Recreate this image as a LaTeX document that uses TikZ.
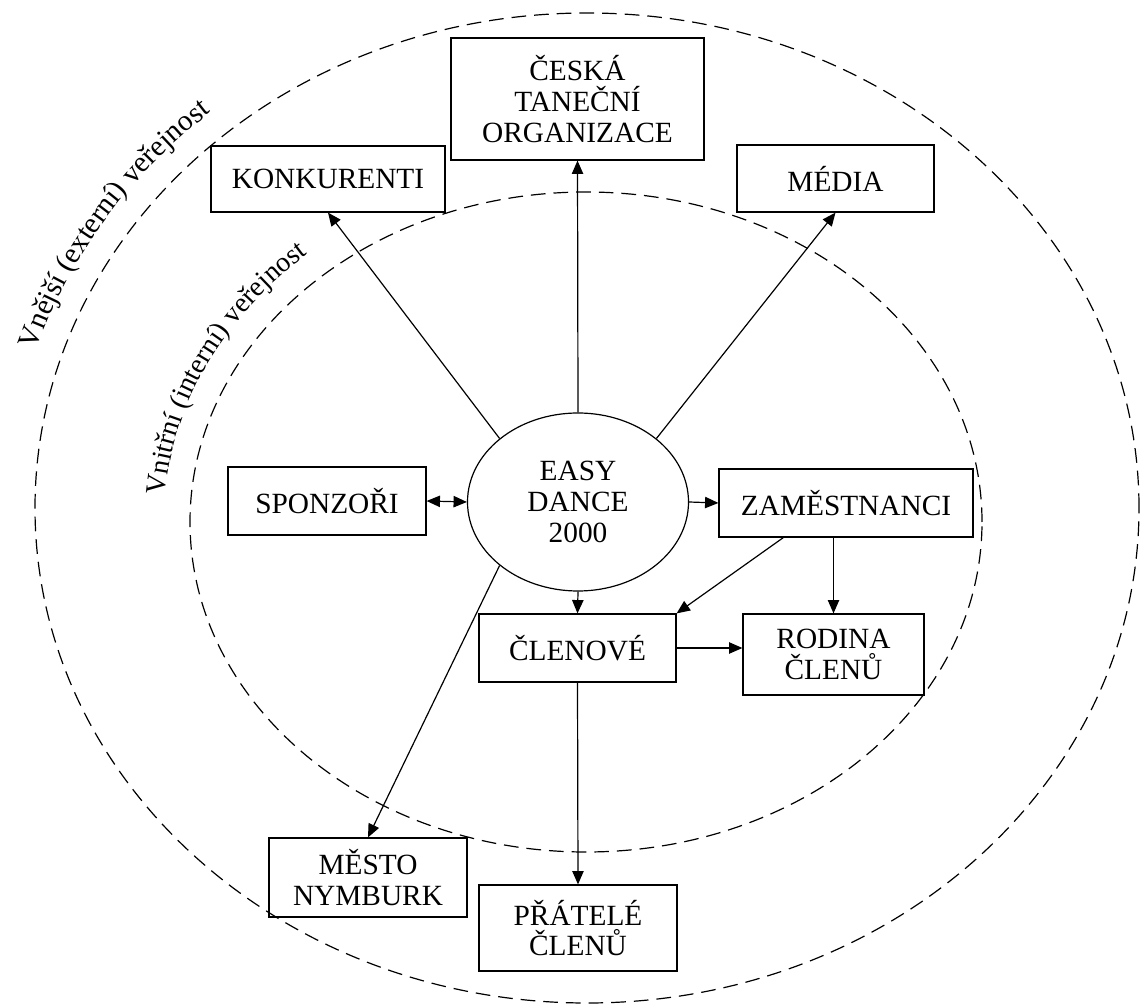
\documentclass[tikz,border=0pt]{standalone}
\usepackage{fontspec}
\setmainfont{Liberation Serif}
\usetikzlibrary{arrows.meta,shapes.geometric,decorations.text}

\begin{document}
\begin{tikzpicture}[x = 0.75pt, y = 0.75pt,
	box/.style = {draw, line width = 0.9pt, align = center, inner sep = 2pt, font = \fontsize{22}{23}\selectfont},
	zone/.style = {draw, line width = 0.9pt, dash pattern = on 11pt off 6pt},
	arr/.style = {->, > = {Triangle[length = 10pt, width = 8.5pt]}, line width = 0.9pt}]
	\useasboundingbox (0, 0) rectangle (1141, 1007);
	% the two publics
	\draw[zone] (587, 499) ellipse [x radius = 552, y radius = 495];
	\draw[zone] (586, 485) ellipse [x radius = 396, y radius = 330];
	\path[decorate, decoration = {text along path, text align = center, text = {|\fontsize{22}{23}\selectfont|Vnější (externí) veřejnost}}] (587, 499) ++(178:578 and 521) arc [start angle = 178, end angle = 116, x radius = 578, y radius = 521];
	\path[decorate, decoration = {text along path, text align = center, text = {|\fontsize{21}{23}\selectfont|Vnitřní (interní) veřejnost}}] (586, 485) ++(185:422 and 356) arc [start angle = 185, end angle = 123, x radius = 422, y radius = 356];
	% nodes
	\node[box, ellipse, minimum width = 165.75pt, minimum height = 133.5pt] (easy) at (578, 505) {EASY\\DANCE\\2000};
	\node[box, minimum width = 189.75pt, minimum height = 91.5pt] (ceska) at (577.5, 908) {ČESKÁ\\TANEČNÍ\\ORGANIZACE};
	\node[box, minimum width = 175.5pt, minimum height = 49.5pt] (konkurenti) at (328, 828) {KONKURENTI};
	\node[box, minimum width = 147.75pt, minimum height = 50.25pt] (media) at (835.5, 828.5) {MÉDIA};
	\node[box, minimum width = 148.5pt, minimum height = 51pt] (sponzori) at (327, 506) {SPONZOŘI};
	\node[box, minimum width = 190.5pt, minimum height = 51pt] (zamestnanci) at (846, 504) {ZAMĚSTNANCI};
	\node[box, minimum width = 147.75pt, minimum height = 51pt] (clenove) at (577.5, 359) {ČLENOVÉ};
	\node[box, minimum width = 135.75pt, minimum height = 60.75pt] (rodina) at (833.5, 352.5) {RODINA\\ČLENŮ};
	\node[box, minimum width = 148.5pt, minimum height = 59.25pt] (mesto) at (368, 129.5) {MĚSTO\\NYMBURK};
	\node[box, minimum width = 148.5pt, minimum height = 64.5pt] (pratele) at (578, 79) {PŘÁTELÉ\\ČLENŮ};
	% connectors
	\draw[arr] (easy.north) -- (ceska.south);
	\draw[arr] (easy.141) -- (konkurenti.south);
	\draw[arr] (easy.39) -- (media.south);
	\draw[arr, <->] (sponzori.east) -- (easy.west);
	\draw[arr] (easy.east) -- (zamestnanci.west);
	\draw[arr] (easy.south) -- (clenove.north);
	\draw[arr] (easy.219) -- (mesto.north);
	\draw[arr] ([xshift = -47pt]zamestnanci.south) -- (clenove.north east);
	\draw[arr] (zamestnanci.south -| rodina.north) -- (rodina.north);
	\draw[arr] (clenove.east) -- (clenove.east -| rodina.west);
	\draw[arr] (clenove.south) -- (pratele.north);
\end{tikzpicture}
\end{document}
